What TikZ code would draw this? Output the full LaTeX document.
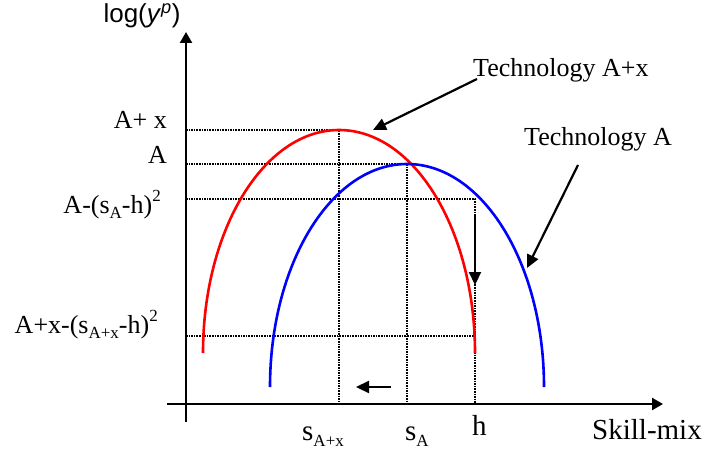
\documentclass[tikz,border=0pt]{standalone}
\usepackage{fontspec}
\setmainfont{Liberation Serif}
\newfontfamily\arialfont{Liberation Sans}
\usetikzlibrary{arrows.meta}
\newcommand{\supr}[1]{\raisebox{0.45em}{\fontsize{17}{20}\selectfont #1}}
\newcommand{\subr}[1]{\raisebox{-0.22em}{\fontsize{17}{20}\selectfont #1}}
\begin{document}
\begin{tikzpicture}[x=1pt,y=1pt,
  axisline/.style={line width=2.4pt,-{Triangle[length=11pt,width=12pt]}},
  guide/.style={line width=2pt,dash pattern=on 1.5pt off 1.1pt},
  curveline/.style={line width=2.6pt},
  pointer/.style={line width=2.2pt,-{Triangle[length=13pt,width=12pt]}},
  lbl/.style={inner sep=0pt,font=\fontsize{26}{30}\selectfont},
  biglbl/.style={inner sep=0pt,font=\fontsize{29}{33}\selectfont}]
\useasboundingbox (0,0) rectangle (709,451);
% axes
\coordinate (yb) at (186,29);
\coordinate (yt) at (186,419);
\coordinate (xl) at (167,47);
\coordinate (xr) at (663,47);
\draw[axisline] (yb) -- (yt);
\draw[axisline] (xl) -- (xr);
% guide points
\coordinate (lAx) at (186,321);
\coordinate (lA) at (186,287);
\coordinate (lAh) at (186,252);
\coordinate (lAxh) at (186,115);
\coordinate (pAx) at (339,321);
\coordinate (pA) at (407,287);
\coordinate (pAh) at (475,252);
\coordinate (pAxh) at (475,115);
\coordinate (bAx) at (339,47);
\coordinate (bA) at (407,47);
\coordinate (bh) at (475,47);
\draw[guide] (lAx) -- (pAx) -- (bAx);
\draw[guide] (lA) -- (pA) -- (bA);
\draw[guide] (lAh) -- (pAh) -- (bh);
\draw[guide] (lAxh) -- (pAxh);
% curves
\draw[curveline,red] (475,98) arc[start angle=0,end angle=180,x radius=136,y radius=223];
\draw[curveline,blue] (544,64) arc[start angle=0,end angle=180,x radius=137,y radius=223];
% labels
\node[lbl,anchor=base] (logy) at (142,428) {\arialfont log(\textit{y}\textsuperscript{\textit{p}})};
\node[lbl,anchor=base east] (tAx) at (167,323) {A+ x};
\node[lbl,anchor=base east] (tA) at (167,288) {A};
\node[lbl,anchor=base east] (tAh) at (161,238) {A-(s\subr{A}-h)\supr{2}};
\node[lbl,anchor=base east] (tAxh) at (158,118) {A+x-(s\subr{A+x}-h)\supr{2}};
\node[biglbl,anchor=base west] (sAx) at (302,11) {s\subr{A+x}};
\node[biglbl,anchor=base west] (sA) at (405,11) {s\subr{A}};
\node[biglbl,anchor=base west] (hh) at (472,16) {h};
\node[biglbl,anchor=base west] (skill) at (592,12) {Skill-mix};
\node[lbl,anchor=base west] (techAx) at (473,374) {Technology A+x};
\node[lbl,anchor=base west] (techA) at (524,306) {Technology A};
% pointers
\coordinate (ptAxs) at (477,372);
\coordinate (ptAxe) at (373,321);
\coordinate (ptAs) at (578,286);
\coordinate (ptAe) at (527,183);
\coordinate (dns) at (475,236);
\coordinate (dne) at (475,166);
\coordinate (lfs) at (391,64);
\coordinate (lfe) at (356,64);
\draw[pointer] (ptAxs) -- (ptAxe);
\draw[pointer] (ptAs) -- (ptAe);
\draw[pointer] (dns) -- (dne);
\draw[pointer] (lfs) -- (lfe);
\end{tikzpicture}
\end{document}
